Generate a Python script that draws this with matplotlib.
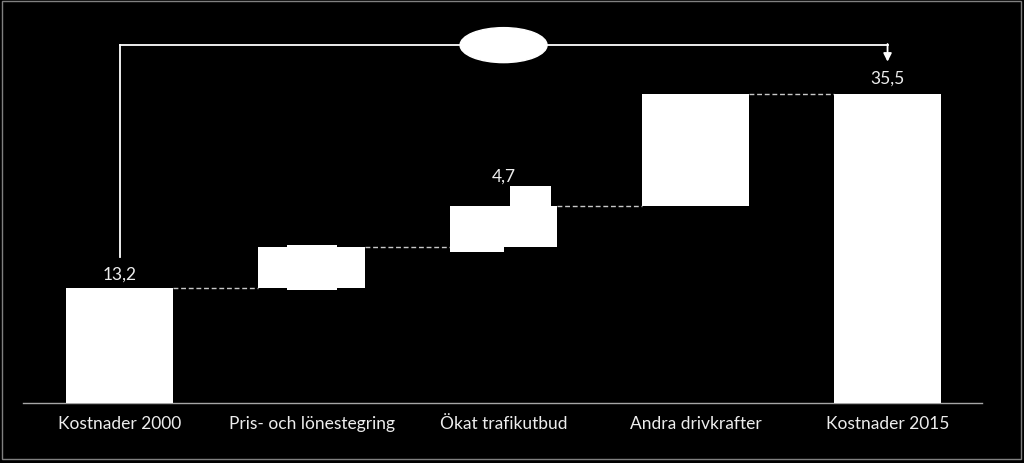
import matplotlib
matplotlib.use("Agg")
import matplotlib.pyplot as plt
from matplotlib.patches import Ellipse, Rectangle

# ---- data ----
categories = ["Kostnader 2000", "Pris- och lönestegring", "Ökat trafikutbud",
              "Andra drivkrafter", "Kostnader 2015"]
start_value = 13.2
changes = [4.7, 4.7, 12.9]
end_value = 35.5
value_labels = ["13,2", "", "4,7", "", "35,5"]

# ---- waterfall geometry from data ----
bottoms = [0.0]
heights = [start_value]
running = start_value
for c in changes:
    bottoms.append(running)
    heights.append(c)
    running += c
bottoms.append(0.0)
heights.append(end_value)
tops = [b + h for b, h in zip(bottoms, heights)]
x = list(range(len(categories)))

plt.rcParams['font.family'] = ['Lato', 'DejaVu Sans']
W, H = 1024, 464
fig = plt.figure(figsize=(W / 100, H / 100), dpi=100, facecolor='black')
ax = fig.add_axes([23 / W, (H - 404) / H, (982 - 23) / W, 384 / H])
ax.set_facecolor('black')

bar_w = 0.557
ax.bar(x, heights, bottom=bottoms, width=bar_w, color='white', edgecolor='none', zorder=3)

# dashed connectors
for i in range(len(x) - 1):
    ax.plot([x[i] + bar_w / 2, x[i + 1] - bar_w / 2], [tops[i], tops[i]],
            ls=(0, (3.5, 2)), color='#c8c8c8', lw=1.0, zorder=2)

# white label covers (as in the reference)
ax.add_patch(Rectangle((x[1] - 0.13, bottoms[1] - 0.23), 0.26, heights[1] + 0.46,
                       color='white', zorder=4, lw=0))
ax.add_patch(Rectangle((x[2] - bar_w / 2, bottoms[2] - 0.57), bar_w / 2, 0.57,
                       color='white', zorder=4, lw=0))
ax.add_patch(Rectangle((x[2] + 0.035, tops[2]), 0.21, 2.3,
                       color='white', zorder=4, lw=0))

# value labels
offsets = {0: 14, 2: 31, 4: 16}
for i, lab in enumerate(value_labels):
    if lab:
        ax.annotate(lab, (x[i], tops[i]), xytext=(0, offsets[i] * 0.72),
                    textcoords='offset points', ha='center', va='center',
                    color='#ededed', fontsize=12.5)

# bracket with ellipse and arrow
yb = 41.15
ax.plot([x[0], x[0]], [start_value + 3.6, yb], color='white', lw=1.3, zorder=3)
ax.plot([x[0], x[-1]], [yb, yb], color='white', lw=1.3, zorder=3)
ax.annotate('', xy=(x[-1], end_value + 3.7), xytext=(x[-1], yb + 0.08),
            arrowprops=dict(arrowstyle='-|>', color='white', lw=1.3,
                            mutation_scale=12, shrinkA=0, shrinkB=0))
ax.add_patch(Ellipse(((x[0] + x[-1]) / 2, 41.1), 0.453, 4.02, color='white', zorder=5))

ax.set_xlim(-0.503, 4.492)
ax.set_ylim(0, 44.1)
ax.set_xticks(x)
ax.set_xticklabels(categories, color='#ededed', fontsize=12.5)
ax.tick_params(axis='x', length=0, pad=9)
ax.set_yticks([])
for s in ['top', 'right', 'left']:
    ax.spines[s].set_visible(False)
ax.spines['bottom'].set_color('#a6a6a6')
ax.spines['bottom'].set_linewidth(1)

# thin grey frame around the figure
fig.patches.append(Rectangle((1.5 / W, (H - 460) / H), (1021 - 1.5) / W, 458.5 / H,
                             transform=fig.transFigure, fill=False,
                             edgecolor='#808080', lw=1))

fig.savefig('out.png', dpi=100, facecolor='black')
